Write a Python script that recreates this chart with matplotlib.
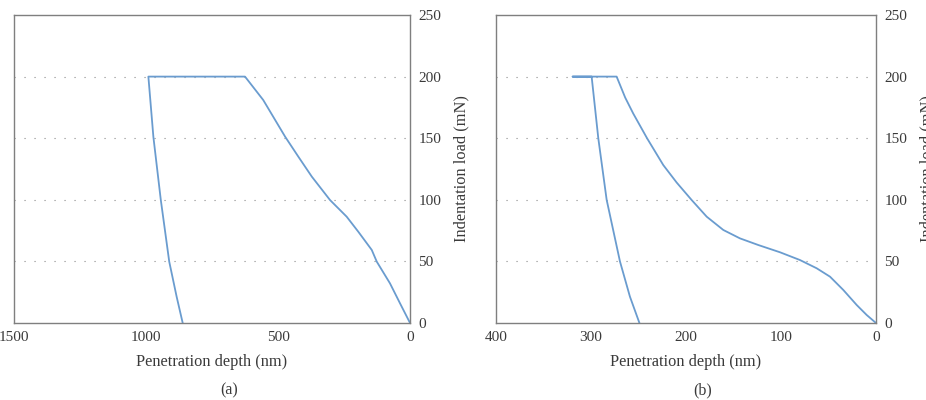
import matplotlib
matplotlib.use("Agg")
import matplotlib.pyplot as plt

plt.rcParams["font.family"] = ["Liberation Serif", "DejaVu Serif"]

# (a) load-displacement curve: loading, hold, unloading
depth_a = [0, 38, 76, 126, 145, 196, 240, 303, 372, 423, 473, 556, 625,
           991, 972, 944, 912, 884, 861]
load_a = [0, 16, 32.2, 49.8, 59.3, 74.1, 86.3, 99.8, 118.8, 135, 151.2, 181, 200,
          200, 151, 100, 49.8, 21.4, 0]

# (b) load-displacement curve: loading, hold, unloading
depth_b = [0, 9.8, 20.3, 34.4, 48.4, 62.4, 80, 101, 123.9, 143.2, 160.7, 178.2, 194,
           209.8, 223.9, 241, 255.5, 264, 273,
           319.3, 299.3, 292.3, 283.5, 269.5, 259, 249]
load_b = [0, 6.5, 14.6, 26.8, 37.6, 44.4, 51.1, 57.4, 63.3, 68.7, 75.5, 86.3, 99.8,
          114, 128.2, 150, 170, 183, 200,
          200, 200, 150, 100, 50, 21.4, 0]

line_col = "#6a9ccf"
frame_col = "#7f7f7f"
text_col = "#3a3a3a"

fig = plt.figure(figsize=(9.26, 4.0), dpi=100)
ax1 = fig.add_axes([0.0151, 0.1925, 0.4277, 0.77])
ax2 = fig.add_axes([0.5356, 0.1925, 0.4104, 0.77])

panels = [
    (ax1, depth_a, load_a, 1500, [1500, 1000, 500, 0], "(a)", 0.247),
    (ax2, depth_b, load_b, 400, [400, 300, 200, 100, 0], "(b)", 0.759),
]

for ax, xs, ys, xmax, xt, cap, capx in panels:
    ax.plot(xs, ys, color=line_col, lw=1.3, solid_joinstyle="round")
    ax.set_xlim(xmax, 0)
    ax.set_ylim(0, 250)
    ax.set_xticks(xt)
    ax.set_yticks([0, 50, 100, 150, 200, 250])
    ax.yaxis.tick_right()
    ax.yaxis.set_label_position("right")
    for y in [50, 100, 150, 200]:
        ax.axhline(y, color="#8a8a8a", lw=0.8, ls=(0, (1, 8)), zorder=0)
    for s in ax.spines.values():
        s.set_color(frame_col)
        s.set_linewidth(1.0)
    ax.tick_params(length=0, labelsize=11, colors=text_col, pad=6)
    ax.set_xlabel("Penetration depth (nm)", fontsize=11.8, color=text_col, labelpad=7)
    ax.set_ylabel("Indentation load (mN)", fontsize=11.8, color=text_col, labelpad=9)
    fig.text(capx, 0.025, cap, ha="center", va="center", fontsize=11.5, color=text_col)

fig.savefig("out.png", dpi=100)
